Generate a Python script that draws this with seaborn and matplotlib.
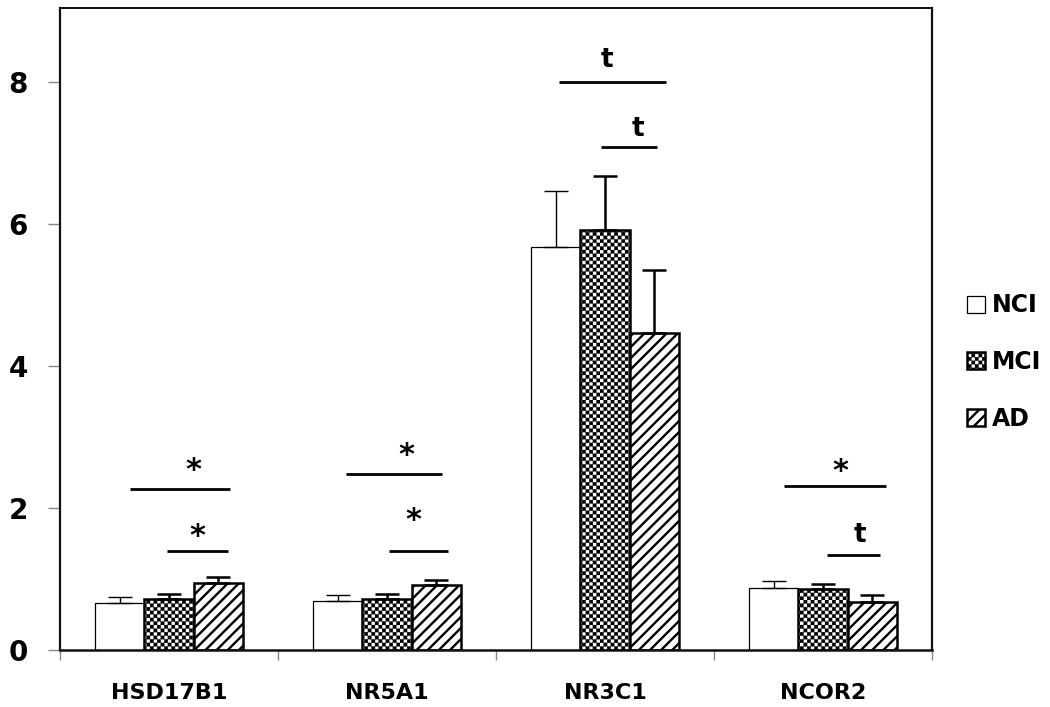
import numpy as np
import pandas as pd
import matplotlib
matplotlib.use("Agg")
import matplotlib.pyplot as plt
import seaborn as sns
from matplotlib.path import Path
from matplotlib.container import BarContainer
import matplotlib.hatch as mhatch

# ---------------- data ----------------
genes = ["HSD17B1", "NR5A1", "NR3C1", "NCOR2"]
groups = ["NCI", "MCI", "AD"]
nci_mean = [0.66, 0.69, 5.67, 0.87]
nci_err = [0.09, 0.09, 0.79, 0.10]
mci_mean = [0.72, 0.72, 5.92, 0.86]
mci_err = [0.07, 0.07, 0.75, 0.07]
ad_mean = [0.95, 0.92, 4.47, 0.68]
ad_err = [0.08, 0.06, 0.88, 0.10]
yticks = [0, 2, 4, 6, 8]

# significance brackets
sig_x0 = [-0.18, -0.01, 0.81, 1.01, 1.79, 1.98, 2.82, 3.02]
sig_x1 = [0.28, 0.27, 1.25, 1.28, 2.28, 2.24, 3.29, 3.26]
sig_y = [2.27, 1.39, 2.48, 1.39, 8.00, 7.08, 2.31, 1.34]
sig_label = ["*", "*", "*", "*", "t", "t", "*", "t"]
sig_lx = [0.11, 0.13, 1.09, 1.12, 2.01, 2.15, 3.08, 3.17]
sig_ly = [2.65, 1.72, 2.86, 1.94, 8.35, 7.37, 2.63, 1.66]


# ---------------- checkerboard hatch ('.') ----------------
class CheckerHatch(mhatch.HatchPatternBase):
    def __init__(self, hatch, density):
        n = 28 if "." in hatch else 0
        self.n = n
        self.cells = [(i, j) for i in range(n) for j in range(n) if (i + j) % 2 == 0]
        self.num_vertices = len(self.cells) * 5

    def set_vertices_and_codes(self, vertices, codes):
        s = 1.0 / self.n
        k = 0
        for i, j in self.cells:
            x0, y0 = i * s, j * s
            vertices[k:k + 5] = [(x0, y0), (x0 + s, y0), (x0 + s, y0 + s),
                                 (x0, y0 + s), (x0, y0)]
            codes[k:k + 5] = [Path.MOVETO, Path.LINETO, Path.LINETO,
                              Path.LINETO, Path.CLOSEPOLY]
            k += 5


mhatch._hatch_types[:] = [t for t in mhatch._hatch_types
                          if t is not mhatch.SmallFilledCircles] + [CheckerHatch]

sns.set_theme(style="white")
plt.rcParams["font.family"] = ["DejaVu Sans"]
plt.rcParams["font.weight"] = "bold"
plt.rcParams["hatch.linewidth"] = 1.7
plt.rcParams["hatch.color"] = "black"
plt.rcParams["text.color"] = "black"
plt.rcParams["axes.labelcolor"] = "black"

df = pd.DataFrame({
    "gene": genes * 3,
    "group": [g for g in groups for _ in genes],
    "value": nci_mean + mci_mean + ad_mean,
})

fig = plt.figure(figsize=(10.5, 7.07), dpi=100)
ax = fig.add_axes([60 / 1050, 1 - 650 / 707, 872 / 1050, 642 / 707])

sns.barplot(data=df, x="gene", y="value", hue="group", order=genes,
            hue_order=groups, palette=["white"] * 3, edgecolor="black",
            width=0.675, errorbar=None, legend=False, ax=ax, saturation=1)

bar_conts = [c for c in ax.containers if isinstance(c, BarContainer)]
hatches = [None, ".", "///"]
edge_lw = [0.9, 1.8, 1.8]
err_lw = [1.0, 1.8, 1.8]
means = [nci_mean, mci_mean, ad_mean]
errs = [nci_err, mci_err, ad_err]


def style_checker(p):
    if hasattr(p, "set_hatch_linewidth"):
        p.set_hatch_linewidth(0.15)


for k, cont in enumerate(bar_conts):
    xs = []
    for bar in cont.patches:
        bar.set_linewidth(edge_lw[k])
        bar.set_edgecolor("black")
        if hatches[k]:
            bar.set_hatch(hatches[k])
            if hatches[k] == ".":
                style_checker(bar)
        xs.append(bar.get_x() + bar.get_width() / 2)
    ax.errorbar(xs, means[k], yerr=[np.zeros(len(errs[k])), errs[k]], fmt="none",
                ecolor="black", elinewidth=err_lw[k], capsize=8.5,
                capthick=err_lw[k], zorder=1.5)

# significance annotations
for x0, x1, y, lab, lx, ly in zip(sig_x0, sig_x1, sig_y, sig_label, sig_lx, sig_ly):
    ax.plot([x0, x1], [y, y], color="black", lw=2.0, solid_capstyle="butt")
    fs = 22 if lab == "*" else 19
    off = 0.56 if lab == "*" else 0.36
    ax.annotate(lab, (lx, ly), xytext=(0, -off * fs), textcoords="offset points",
                ha="center", va="baseline", fontsize=fs, fontweight="bold",
                color="black")

ax.set_ylim(0, 9.04)
ax.set_xlim(-0.5, 3.5)
ax.set_yticks(yticks)
ax.set_yticklabels([str(v) for v in yticks], fontsize=20, fontweight="bold")
ax.set_xticks(range(len(genes)))
ax.set_xticklabels(genes, fontsize=16, fontweight="bold")
ax.set_xticks(np.arange(-0.5, len(genes)), minor=True)
ax.tick_params(axis="x", which="major", length=0, pad=24, labelcolor="black")
ax.tick_params(axis="x", which="minor", length=7, width=1, color="#888888",
               direction="out", bottom=True)
ax.tick_params(axis="y", length=9, width=1, color="#888888", pad=14,
               direction="out", left=True, labelcolor="black")
ax.set_xlabel("")
ax.set_ylabel("")
for side, lw in zip(["left", "bottom", "top", "right"], [1.6, 1.8, 1.4, 1.6]):
    ax.spines[side].set_visible(True)
    ax.spines[side].set_color("#111111")
    ax.spines[side].set_linewidth(lw)

handles = [c.patches[0] for c in bar_conts]
leg = fig.legend(handles, groups, loc="center left",
                 bbox_to_anchor=(0.921, 0.488), frameon=False,
                 prop={"size": 17, "weight": "bold"}, handlelength=0.75,
                 handleheight=0.75, handletextpad=0.3, labelspacing=1.38,
                 borderpad=0, borderaxespad=0)
for h, t in zip(leg.legend_handles, leg.get_texts()):
    t.set_color("black")
    if h.get_hatch() == ".":
        style_checker(h)

fig.savefig("out.png", dpi=100)
